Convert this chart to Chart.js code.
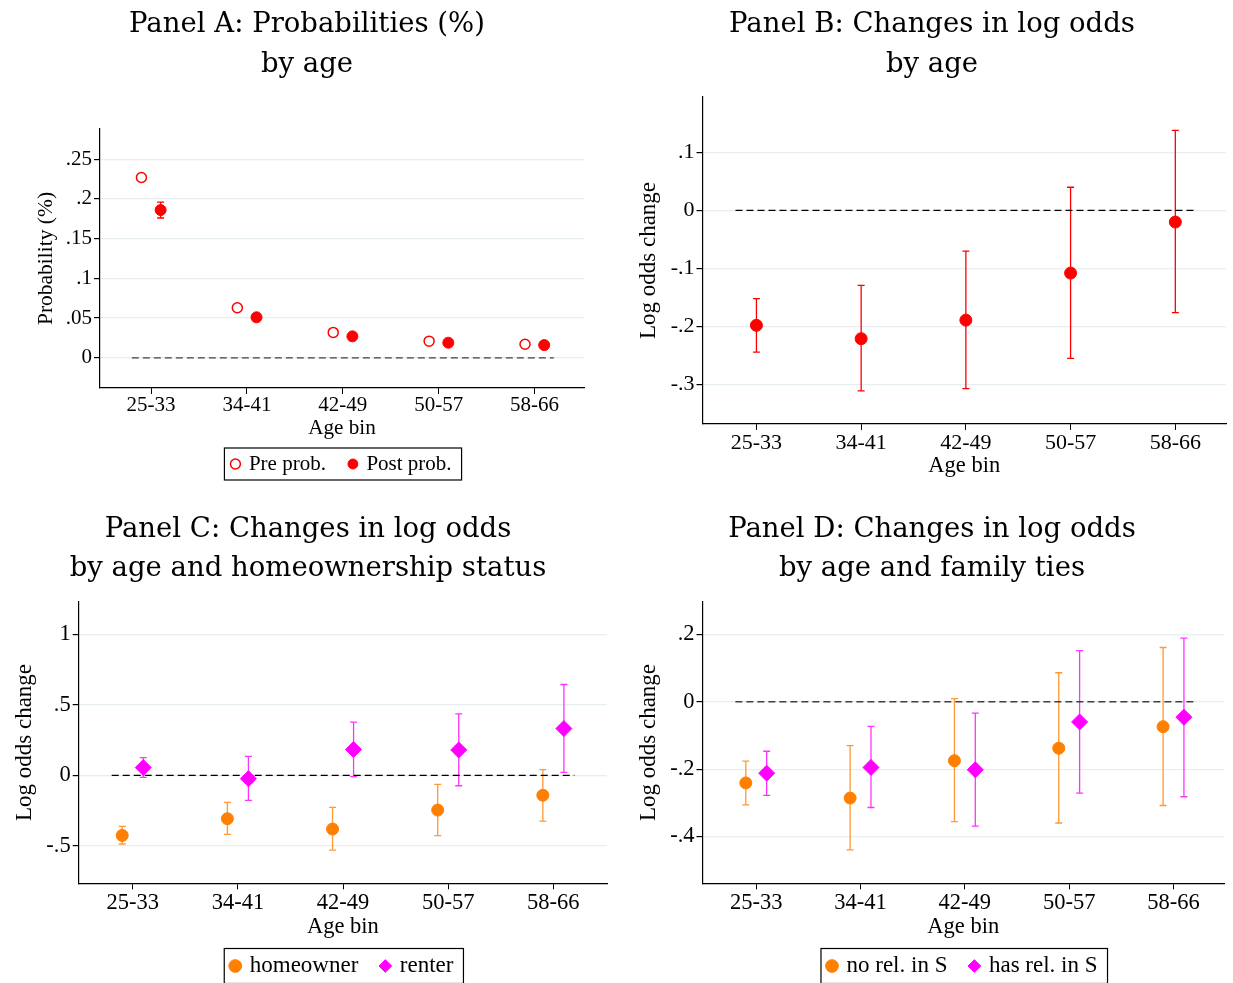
<!DOCTYPE html>
<html>
<head>
<meta charset="utf-8">
<script src="https://cdn.jsdelivr.net/npm/chart.js@4.4.1/dist/chart.umd.min.js"></script>
<style>
  body { margin: 0; background: #fff; width: 1233px; height: 983px; position: relative; overflow: hidden; }
  canvas { position: absolute; }
</style>
</head>
<body>
<canvas id="panelA" width="614" height="485" style="left:0;top:0"></canvas>
<canvas id="panelB" width="602" height="490" style="left:631px;top:0"></canvas>
<canvas id="panelC" width="616" height="485" style="left:0;top:503px"></canvas>
<canvas id="panelD" width="602" height="485" style="left:631px;top:503px"></canvas>
<script>
// categories
const ageBins = ["25-33", "34-41", "42-49", "50-57", "58-66"];

// Panel A: probabilities
const preProb = [0.227, 0.063, 0.032, 0.021, 0.017];
const postProb = [0.186, 0.051, 0.027, 0.019, 0.016];
const postProbLo = [0.176, 0.049, 0.025, 0.018, 0.015];
const postProbHi = [0.196, 0.053, 0.029, 0.020, 0.017];

// Panel B: log odds by age
const ageLogOdds = [-0.198, -0.221, -0.189, -0.108, -0.020];
const ageLogOddsLo = [-0.244, -0.311, -0.307, -0.255, -0.176];
const ageLogOddsHi = [-0.152, -0.129, -0.070, 0.040, 0.138];

// Panel C: homeowner / renter
const ownerLogOdds = [-0.427, -0.308, -0.382, -0.247, -0.142];
const ownerLo = [-0.488, -0.419, -0.531, -0.429, -0.325];
const ownerHi = [-0.363, -0.192, -0.228, -0.064, 0.040];
const renterLogOdds = [0.055, -0.024, 0.183, 0.180, 0.332];
const renterLo = [-0.014, -0.178, -0.010, -0.074, 0.021];
const renterHi = [0.126, 0.135, 0.377, 0.436, 0.645];

// Panel D: family ties
const noRelLogOdds = [-0.241, -0.286, -0.175, -0.138, -0.074];
const noRelLo = [-0.306, -0.440, -0.356, -0.360, -0.308];
const noRelHi = [-0.176, -0.130, 0.009, 0.086, 0.161];
const hasRelLogOdds = [-0.212, -0.195, -0.202, -0.060, -0.046];
const hasRelLo = [-0.278, -0.314, -0.369, -0.271, -0.282];
const hasRelHi = [-0.147, -0.073, -0.034, 0.152, 0.189];

// tick labels
const ticksA = [0, 0.05, 0.1, 0.15, 0.2, 0.25];
const ticksB = [-0.3, -0.2, -0.1, 0, 0.1];
const ticksC = [-0.5, 0, 0.5, 1];
const ticksD = [-0.4, -0.2, 0, 0.2];

// x span of the dashed reference line
const zeroSpan = [0.8, 5.2];

Chart.defaults.font.family = "'Liberation Serif', 'Times New Roman', serif";
Chart.defaults.font.size = 22;
Chart.defaults.color = "#000";

const RED = "#ff0000";
const ORANGE = "#ff8000";
const MAGENTA = "#ff00ff";
const TITLE_FONT = "'DejaVu Serif', serif";

// Stata style labels: .25, -.1, 0
function tickLabel(v) {
    if (Math.abs(v) < 1e-9) return "0";
    const s = String(Math.round(v * 100) / 100);
    return s.replace(/^(-?)0\./, "$1.");
}

function pointsAt(values, shift) {
    return values.map((v, i) => ({ x: i + 1 + shift, y: v }));
}

function zeroLine(color) {
    return {
        data: zeroSpan.map((x) => ({ x: x, y: 0 })),
        showLine: true,
        borderColor: color,
        borderWidth: 1.3,
        borderDash: [7, 4],
        pointRadius: 0,
        order: 5,
        noLegend: true,
    };
}

// vertical error bars with caps, drawn under the markers
const errorBars = {
    id: "errorBars",
    beforeDatasetsDraw(chart) {
        const { ctx } = chart;
        const xs = chart.scales.x;
        const ys = chart.scales.y;
        chart.data.datasets.forEach((ds) => {
            if (!ds.errLo) return;
            ctx.save();
            ctx.strokeStyle = ds.errColor;
            ctx.lineWidth = 1.3;
            ds.data.forEach((pt, j) => {
                const px = xs.getPixelForValue(pt.x);
                const lo = ys.getPixelForValue(ds.errLo[j]);
                const hi = ys.getPixelForValue(ds.errHi[j]);
                ctx.beginPath();
                ctx.moveTo(px, lo);
                ctx.lineTo(px, hi);
                ctx.moveTo(px - 3.5, lo);
                ctx.lineTo(px + 3.5, lo);
                ctx.moveTo(px - 3.5, hi);
                ctx.lineTo(px + 3.5, hi);
                ctx.stroke();
            });
            ctx.restore();
        });
    },
};

// box round the legend
const legendFrame = {
    id: "legendFrame",
    afterDraw(chart) {
        const lg = chart.legend;
        if (!lg || !lg.options.display || !lg.legendHitBoxes.length) return;
        const hb = lg.legendHitBoxes;
        const half = lg.options.frameHalf;
        const left = Math.min(...hb.map((b) => b.left)) - 8;
        const right = Math.max(...hb.map((b) => b.left + b.width)) + 10;
        const mid = hb[0].top + hb[0].height / 2;
        const ctx = chart.ctx;
        ctx.save();
        ctx.strokeStyle = "#000";
        ctx.lineWidth = 1.2;
        ctx.strokeRect(left, mid - half, right - left, 2 * half);
        ctx.restore();
    },
};

function makePanel(id, p) {
    new Chart(document.getElementById(id), {
        type: "scatter",
        data: { datasets: p.datasets },
        plugins: [errorBars, legendFrame],
        options: {
            responsive: false,
            animation: false,
            events: [],
            devicePixelRatio: 1,
            layout: { padding: { left: p.padLeft, right: p.padRight, top: 0, bottom: p.padBottom } },
            plugins: {
                title: {
                    display: true,
                    text: p.title,
                    color: "#000",
                    font: { family: TITLE_FONT, size: 27.5, weight: "normal", lineHeight: p.titleLine + "px" },
                    padding: { top: p.titleTop, bottom: p.titleBottom },
                },
                legend: p.legend
                    ? {
                          display: true,
                          position: "bottom",
                          fullSize: false,
                          frameHalf: p.frameHalf,
                          labels: {
                              usePointStyle: true,
                              boxWidth: 6,
                              boxHeight: p.legendBox,
                              padding: 24,
                              color: "#000",
                              font: { size: p.legendSize },
                              filter: (item, data) => !data.datasets[item.datasetIndex].noLegend,
                          },
                      }
                    : { display: false },
                tooltip: { enabled: false },
            },
            scales: {
                x: {
                    type: "linear",
                    min: p.xMin,
                    max: p.xMax,
                    afterBuildTicks: (s) => {
                        s.ticks = ageBins.map((_, i) => ({ value: i + 1 }));
                    },
                    afterFit: (s) => {
                        s.height = p.xAxisH;
                    },
                    ticks: {
                        callback: (v) => ageBins[Math.round(v) - 1],
                        padding: p.tickPad,
                        maxRotation: 0,
                        autoSkip: false,
                        color: "#000",
                        font: { size: p.tickSize },
                    },
                    grid: { drawOnChartArea: false, drawTicks: true, tickLength: 6, tickColor: "#000" },
                    border: { color: "#000", width: 1.2 },
                    title: {
                        display: true,
                        text: "Age bin",
                        color: "#000",
                        font: { size: p.xTitleSize, lineHeight: p.xTitleLine + "px" },
                        padding: { top: 0, bottom: 0 },
                    },
                },
                y: {
                    type: "linear",
                    min: p.yMin,
                    max: p.yMax,
                    afterBuildTicks: (s) => {
                        s.ticks = p.yTicks.map((v) => ({ value: v }));
                    },
                    afterFit: (s) => {
                        s.width = p.yAxisW;
                    },
                    ticks: { callback: (v) => tickLabel(v), padding: 2, color: "#000", font: { size: p.tickSize } },
                    grid: { color: "#e6eef0", lineWidth: 1.2, drawTicks: true, tickLength: 6, tickColor: "#000" },
                    border: { color: "#000", width: 1.2 },
                    title: {
                        display: true,
                        text: p.yTitle,
                        color: "#000",
                        font: { size: p.yTitleSize },
                        padding: { top: p.yTitlePad, bottom: 0 },
                    },
                },
            },
        },
    });
}

// Panel A
makePanel("panelA", {
    title: ["Panel A: Probabilities (%)", "by age"],
    titleLine: 40, titleTop: 4.5, titleBottom: 44.5,
    yTitle: "Probability (%)",
    xMin: 0.468, xMax: 5.515, yMin: -0.038, yMax: 0.288, yTicks: ticksA,
    padLeft: 30, yAxisW: 70, xAxisH: 41.5, padRight: 30, padBottom: 0.5,
    tickSize: 21, tickPad: -1, xTitleSize: 21.2, xTitleLine: 3, yTitleSize: 21.5, yTitlePad: 3.1,
    legend: true, legendSize: 21, legendBox: 7, frameHalf: 16,
    datasets: [
        zeroLine("#404040"),
        { label: "Pre prob.", data: pointsAt(preProb, -0.1), pointStyle: "circle", pointRadius: 5,
          backgroundColor: "#fff", borderColor: RED, borderWidth: 1.5, order: 1 },
        { label: "Post prob.", data: pointsAt(postProb, 0.1), pointStyle: "circle", pointRadius: 5.5,
          backgroundColor: RED, borderColor: RED, borderWidth: 1, order: 1,
          errLo: postProbLo, errHi: postProbHi, errColor: RED },
    ],
});

// Panel B
makePanel("panelB", {
    title: ["Panel B: Changes in log odds", "by age"],
    titleLine: 40, titleTop: 4.5, titleBottom: 12.5,
    yTitle: "Log odds change",
    xMin: 0.485, xMax: 5.484, yMin: -0.368, yMax: 0.1955, yTicks: ticksB,
    padLeft: 4, yAxisW: 67.5, xAxisH: 54, padRight: 4, padBottom: 12,
    tickSize: 22, tickPad: 0, xTitleSize: 22.5, xTitleLine: 24, yTitleSize: 23, yTitlePad: 0,
    legend: false,
    datasets: [
        zeroLine("#000"),
        { label: "Log odds change", data: pointsAt(ageLogOdds, 0), pointStyle: "circle", pointRadius: 6,
          backgroundColor: RED, borderColor: RED, borderWidth: 1, order: 1,
          errLo: ageLogOddsLo, errHi: ageLogOddsHi, errColor: RED },
    ],
});

// Panel C
makePanel("panelC", {
    title: ["Panel C: Changes in log odds", "by age and homeownership status"],
    titleLine: 39, titleTop: 7.5, titleBottom: 13.2,
    yTitle: "Log odds change",
    xMin: 0.486, xMax: 5.51, yMin: -0.767, yMax: 1.233, yTicks: ticksC,
    padLeft: 9, yAxisW: 69.7, xAxisH: 47.2, padRight: 9, padBottom: 0.5,
    tickSize: 22.5, tickPad: 0, xTitleSize: 22.5, xTitleLine: 7.6, yTitleSize: 23, yTitlePad: 1.7,
    legend: true, legendSize: 23, legendBox: 9, frameHalf: 17.5,
    datasets: [
        zeroLine("#000"),
        { label: "homeowner", data: pointsAt(ownerLogOdds, -0.1), pointStyle: "circle", pointRadius: 6,
          backgroundColor: ORANGE, borderColor: ORANGE, borderWidth: 1, order: 1,
          errLo: ownerLo, errHi: ownerHi, errColor: "#ff9933" },
        { label: "renter", data: pointsAt(renterLogOdds, 0.1), pointStyle: "rectRot", pointRadius: 8,
          backgroundColor: MAGENTA, borderColor: MAGENTA, borderWidth: 1, order: 1,
          errLo: renterLo, errHi: renterHi, errColor: "#ff33ff" },
    ],
});

// Panel D
makePanel("panelD", {
    title: ["Panel D: Changes in log odds", "by age and family ties"],
    titleLine: 39, titleTop: 7.5, titleBottom: 13.2,
    yTitle: "Log odds change",
    xMin: 0.485, xMax: 5.484, yMin: -0.539, yMax: 0.297, yTicks: ticksD,
    padLeft: 4, yAxisW: 67.5, xAxisH: 47.2, padRight: 4, padBottom: 0.5,
    tickSize: 22.5, tickPad: 0, xTitleSize: 22.5, xTitleLine: 7.6, yTitleSize: 23, yTitlePad: 0,
    legend: true, legendSize: 23, legendBox: 9, frameHalf: 17.5,
    datasets: [
        zeroLine("#404040"),
        { label: "no rel. in S", data: pointsAt(noRelLogOdds, -0.1), pointStyle: "circle", pointRadius: 6,
          backgroundColor: ORANGE, borderColor: ORANGE, borderWidth: 1, order: 1,
          errLo: noRelLo, errHi: noRelHi, errColor: "#ff9933" },
        { label: "has rel. in S", data: pointsAt(hasRelLogOdds, 0.1), pointStyle: "rectRot", pointRadius: 8,
          backgroundColor: MAGENTA, borderColor: MAGENTA, borderWidth: 1, order: 1,
          errLo: hasRelLo, errHi: hasRelHi, errColor: "#ff33ff" },
    ],
});
</script>
</body>
</html>
